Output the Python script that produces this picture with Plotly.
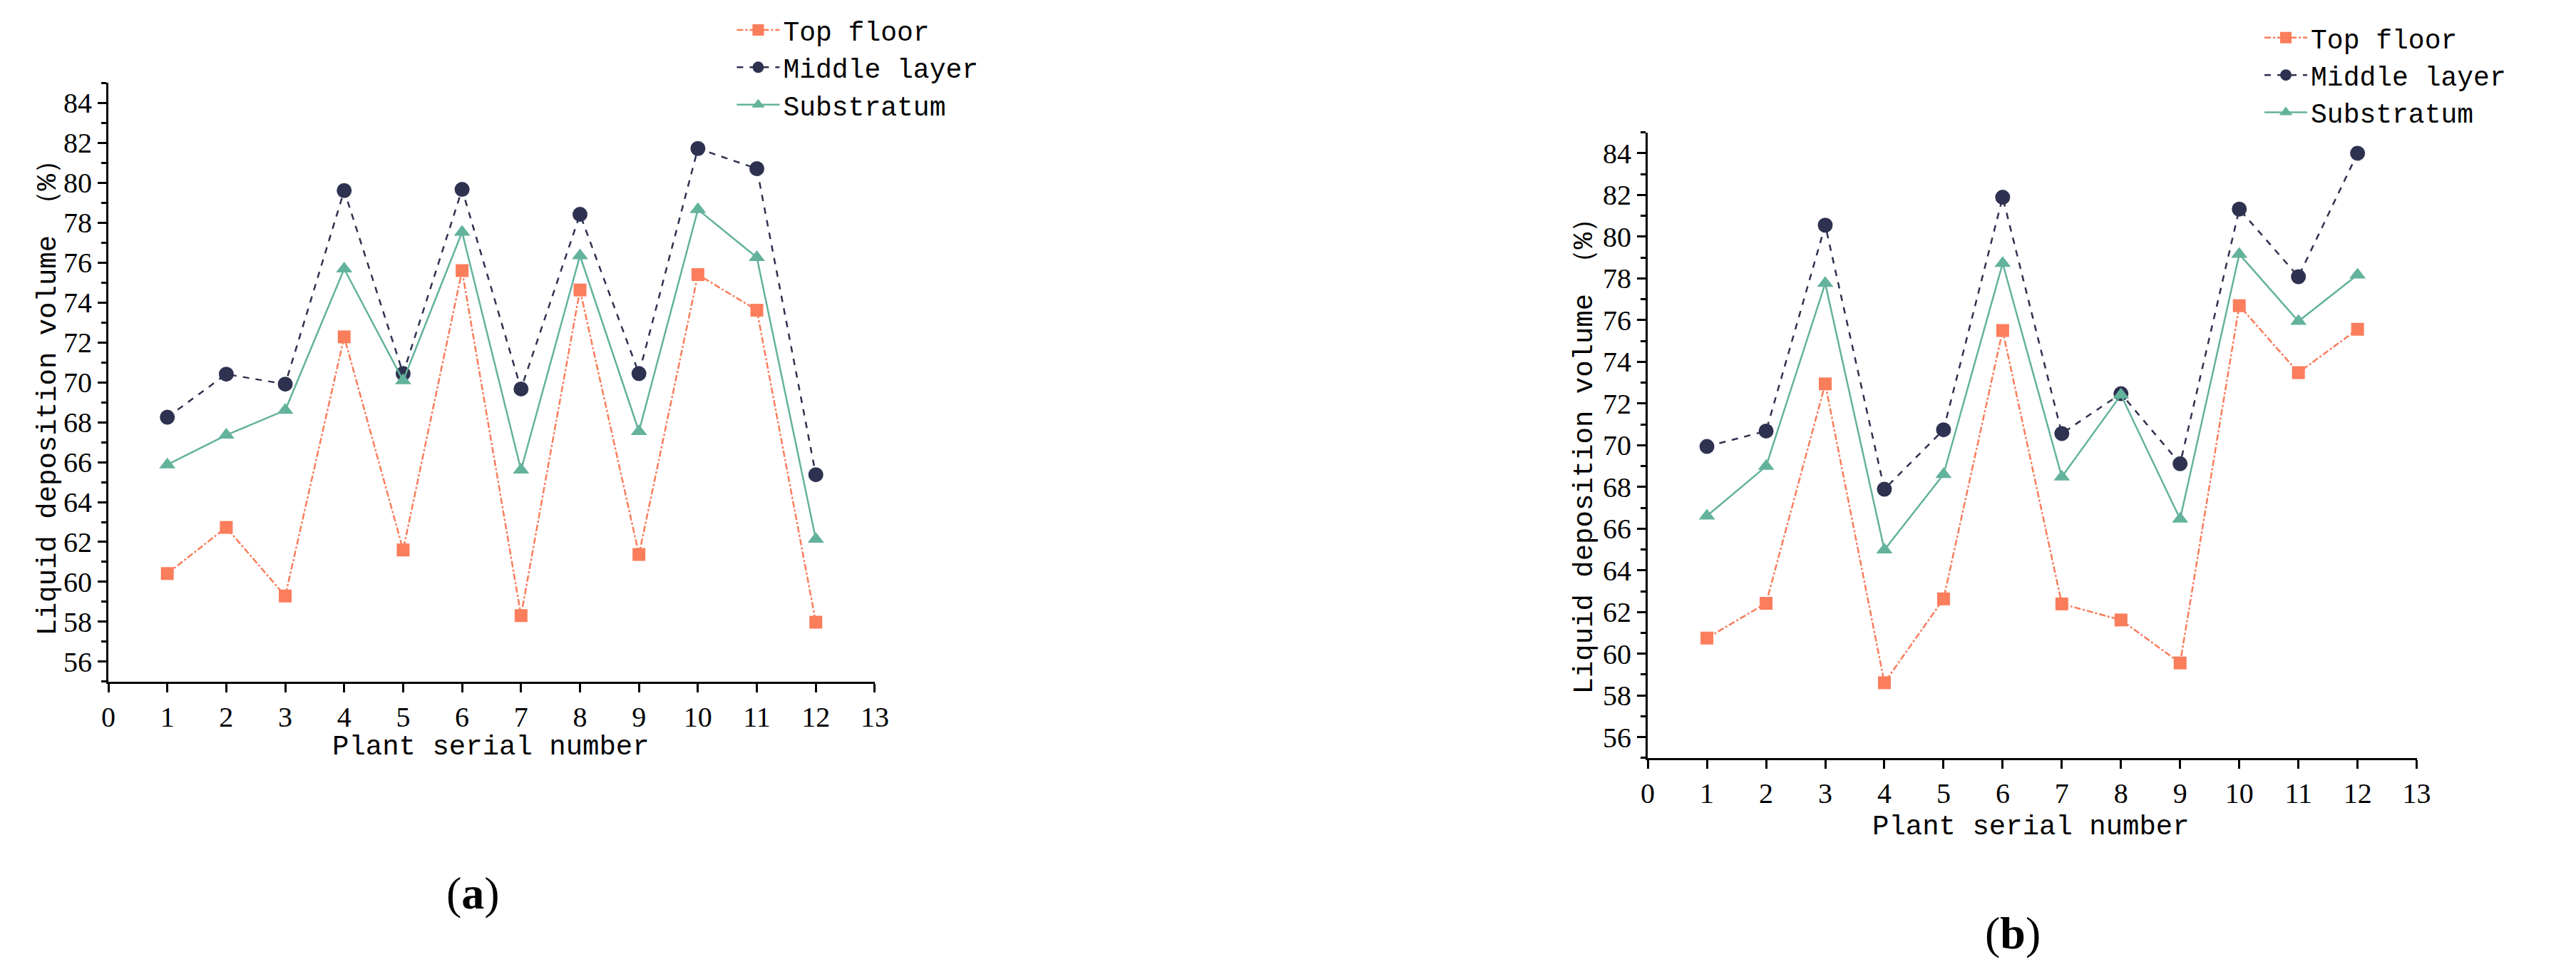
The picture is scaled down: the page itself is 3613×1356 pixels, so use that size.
import plotly.graph_objects as go

plants = list(range(1, 13))

top_a = [60.42, 62.73, 59.29, 72.28, 61.60, 75.60, 58.31, 74.63, 61.37, 75.40, 73.62, 57.98]
mid_a = [68.25, 70.41, 69.91, 79.61, 70.44, 79.67, 69.67, 78.42, 70.44, 81.72, 80.71, 65.37]
sub_a = [65.87, 67.36, 68.60, 75.69, 70.09, 77.53, 65.61, 76.35, 67.54, 78.66, 76.26, 62.14]

top_b = [60.75, 62.42, 72.94, 58.61, 62.63, 75.50, 62.39, 61.62, 59.56, 76.69, 73.48, 75.56]
mid_b = [69.94, 70.68, 80.55, 67.89, 70.74, 81.89, 70.56, 72.47, 69.11, 81.32, 78.08, 84.00]
sub_b = [66.61, 68.99, 77.76, 64.98, 68.60, 78.72, 68.48, 72.41, 66.46, 79.16, 75.94, 78.17]

names = ["Top floor", "Middle layer", "Substratum"]
colors = ["#FA7D5C", "#2E3250", "#63B29C"]
dashes = ["dashdot", "dash", "solid"]
symbols = ["square", "circle", "triangle-up"]
msizes = [18, 21, 20]

W, H = 3613, 1356
mono = "Liberation Mono, DejaVu Sans Mono, monospace"
serif = "Liberation Serif, Times New Roman, serif"

fig = go.Figure()
panels = [("", "", [top_a, mid_a, sub_a], "legend"), ("2", "2", [top_b, mid_b, sub_b], "legend2")]
for xa, ya, series, leg in panels:
    for i, vals in enumerate(series):
        fig.add_trace(go.Scatter(
            x=plants, y=vals, name=names[i], mode="lines+markers",
            xaxis="x" + xa, yaxis="y" + ya, legend=leg,
            line=dict(color=colors[i], dash=dashes[i], width=2.5),
            marker=dict(symbol=symbols[i], size=msizes[i], color=colors[i]),
        ))

ax = dict(showline=True, linecolor="black", linewidth=3, ticks="outside", ticklen=12,
          tickwidth=3, tickcolor="black", showgrid=False, zeroline=False,
          tickfont=dict(family=serif, size=40, color="black"))
xa = dict(ax, range=[0, 13], tick0=0, dtick=1)
ya = dict(ax, range=[55, 85], tickvals=list(range(56, 85, 2)),
          minor=dict(ticks="outside", ticklen=7, tickwidth=3, tickcolor="black", dtick=1, tick0=55))

leg = dict(font=dict(family=mono, size=38, color="black"), bgcolor="rgba(0,0,0,0)",
           itemwidth=60, tracegroupgap=0, xanchor="left", yanchor="top")

fig.update_layout(
    width=W, height=H, plot_bgcolor="white", paper_bgcolor="white",
    margin=dict(l=0, r=0, t=0, b=0),
    xaxis=dict(xa, domain=[0.0374, 0.3374], anchor="y"),
    yaxis=dict(ya, domain=[0.301, 0.920], anchor="x"),
    xaxis2=dict(xa, domain=[0.640, 0.941], anchor="y2"),
    yaxis2=dict(ya, domain=[0.222, 0.869], anchor="x2"),
    legend=dict(leg, x=0.282, y=0.998),
    legend2=dict(leg, x=0.880, y=0.990),
    showlegend=True,
)

ann = [
    (50 / W, 1 - 540 / H, "Liquid deposition volume （%）", -90),
    (2223 / W, 1 - 622 / H, "Liquid deposition volume （%）", -90),
    (676 / W, 1 - 1040 / H, "Plant serial number", 0),
    (2854 / W, 1 - 1152 / H, "Plant serial number", 0),
]
for x, y, t, ang in ann:
    fig.add_annotation(x=x, y=y, xref="paper", yref="paper", text=t, showarrow=False,
                       xanchor="center", yanchor="middle", textangle=ang,
                       font=dict(family=mono, size=39, color="black"))

for x, y, t in [(651 / W, 1 - 1244 / H, "(<b>a</b>)"), (2828 / W, 1 - 1300 / H, "(<b>b</b>)")]:
    fig.add_annotation(x=x, y=y, xref="paper", yref="paper", text=t, showarrow=False,
                       xanchor="center", yanchor="middle",
                       font=dict(family=serif, size=64, color="black"))

fig.write_html("out.html")
